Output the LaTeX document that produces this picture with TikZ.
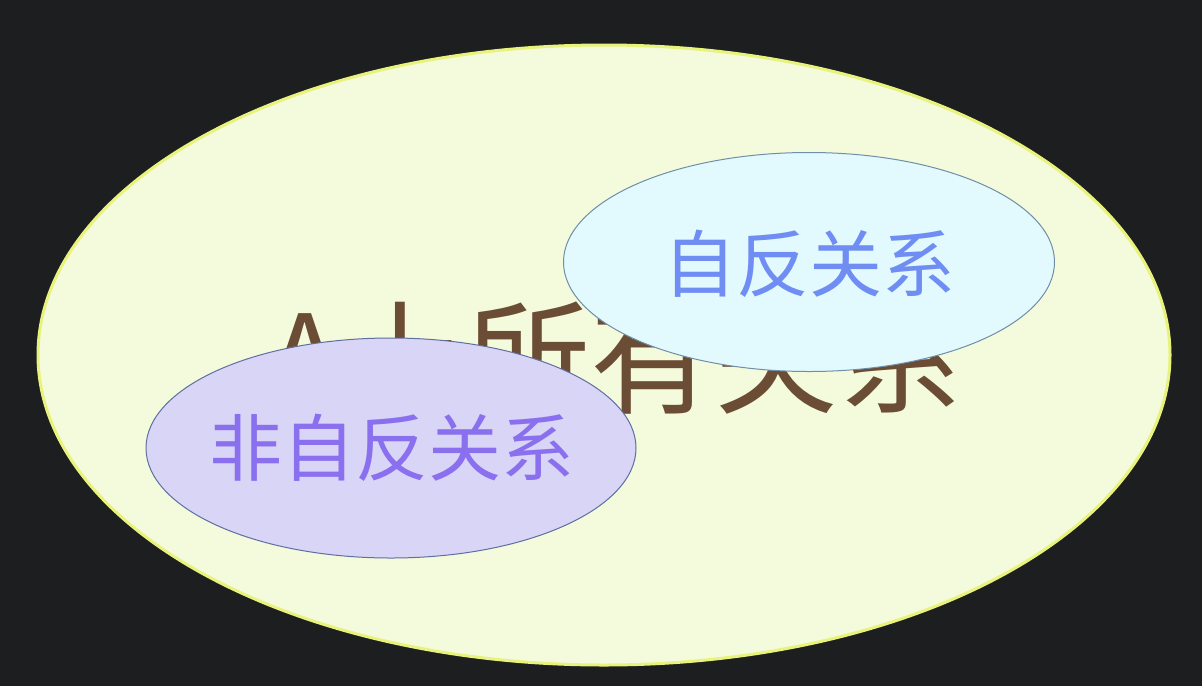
\documentclass[tikz,border=0pt]{standalone}
\usepackage{fontspec}
\newfontfamily\cjk{Noto Sans CJK SC}
\usetikzlibrary{shapes.geometric}
\definecolor{bg}{HTML}{1C1E20}
\definecolor{bigfill}{HTML}{F4FADC}
\definecolor{bigedge}{HTML}{E9F27A}
\definecolor{bluefill}{HTML}{E2F9FD}
\definecolor{blueedge}{HTML}{6F8EA8}
\definecolor{purplefill}{HTML}{D9D5F6}
\definecolor{purpleedge}{HTML}{5F6FA0}
\definecolor{bluetext}{HTML}{6F8DF2}
\definecolor{purpletext}{HTML}{8A6FEE}
\definecolor{browntext}{HTML}{6B4C34}
\tikzset{
  setbox/.style={ellipse, inner sep=0pt, line width=1pt},
  bigtext/.style={font=\cjk\fontsize{124}{124}\selectfont, text=browntext, inner sep=0pt},
  smalltext/.style={font=\cjk\fontsize{73}{73}\selectfont, inner sep=0pt}
}
\begin{document}
\begin{tikzpicture}[x=1pt,y=-1pt]
\fill[bg] (0,0) rectangle (1202,686);
\useasboundingbox (0,0) rectangle (1202,686);
\node[setbox, draw=bigedge, fill=bigfill, line width=3pt, minimum width=1132pt, minimum height=620pt] (all) at (604,355) {};
\node[bigtext] (alltext) at (615,357) {A上所有关系};
\node[setbox, draw=blueedge, fill=bluefill, minimum width=491pt, minimum height=219pt] (refl) at (809,262) {};
\node[smalltext, text=bluetext] (refltext) at (809,264) {自反关系};
\node[setbox, draw=purpleedge, fill=purplefill, minimum width=490pt, minimum height=220pt] (irrefl) at (391,448) {};
\node[smalltext, text=purpletext] (irrefltext) at (392,448) {非自反关系};
\end{tikzpicture}
\end{document}
